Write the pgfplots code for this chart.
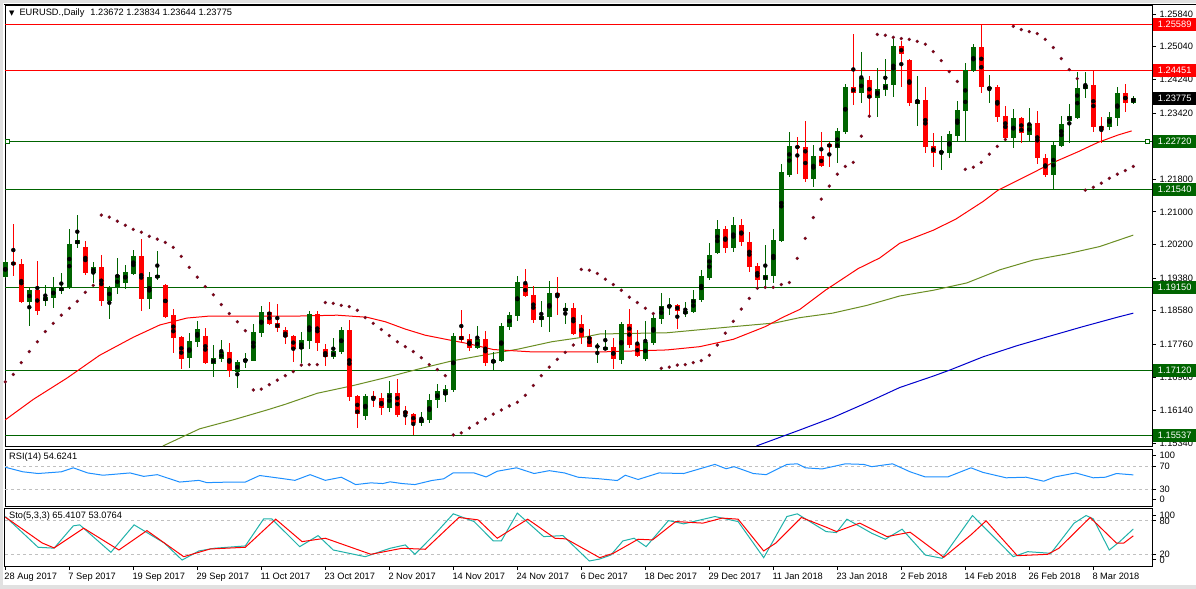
\documentclass[border=0pt]{standalone}
\usepackage{pgfplots}
\pgfplotsset{compat=1.18}
\usepackage{pgfplotstable}
\usepackage{fontspec}
\setmainfont{Liberation Sans}
\newfontfamily\dejavu{DejaVu Sans}
\definecolor{bullc}{RGB}{0,100,0}
\definecolor{bearc}{RGB}{255,0,0}
\definecolor{sarc}{RGB}{139,0,0}
\definecolor{sard}{RGB}{105,20,55}
\definecolor{olivema}{RGB}{107,142,35}
\definecolor{bluema}{RGB}{0,0,205}
\definecolor{rsic}{RGB}{30,144,255}
\definecolor{stoc}{RGB}{32,178,170}
\definecolor{lvl}{RGB}{192,192,192}
\definecolor{winbg}{RGB}{225,225,225}
\newcommand{\fs}{\fontsize{9.3}{10}\selectfont}

\pgfplotstableread{
i o h l c
0 1.1940 1.1982 1.1938 1.1977
3 1.1879 1.1913 1.1820 1.1909
5 1.1882 1.1921 1.1869 1.1891
6 1.1889 1.1940 1.1864 1.1913
7 1.1906 1.1950 1.1899 1.1916
8 1.1913 1.2058 1.1911 1.2021
9 1.2021 1.2092 1.2011 1.2031
11 1.1950 1.1977 1.1926 1.1965
13 1.1882 1.1918 1.1837 1.1916
14 1.1913 1.1987 1.1899 1.1945
15 1.1926 1.1970 1.1911 1.1953
16 1.1948 1.2007 1.1945 1.1992
18 1.1886 1.1953 1.1862 1.1940
19 1.1938 1.2004 1.1933 1.1945
23 1.1742 1.1803 1.1717 1.1784
24 1.1781 1.1833 1.1769 1.1813
26 1.1727 1.1774 1.1695 1.1742
27 1.1739 1.1786 1.1732 1.1757
29 1.1708 1.1737 1.1668 1.1732
30 1.1735 1.1754 1.1717 1.1739
31 1.1735 1.1825 1.1734 1.1806
32 1.1803 1.1869 1.1793 1.1855
37 1.1764 1.1806 1.1730 1.1786
38 1.1784 1.1857 1.1764 1.1850
41 1.1744 1.1791 1.1739 1.1759
42 1.1757 1.1818 1.1752 1.1811
45 1.1601 1.1654 1.1591 1.1649
48 1.1620 1.1686 1.1611 1.1656
52 1.1584 1.1611 1.1576 1.1593
53 1.1591 1.1654 1.1584 1.1640
54 1.1640 1.1678 1.1620 1.1661
55 1.1651 1.1676 1.1635 1.1666
56 1.1664 1.1803 1.1659 1.1796
59 1.1766 1.1820 1.1764 1.1788
61 1.1730 1.1757 1.1713 1.1737
62 1.1735 1.1828 1.1732 1.1820
63 1.1818 1.1855 1.1811 1.1847
64 1.1845 1.1943 1.1833 1.1928
67 1.1835 1.1882 1.1818 1.1845
68 1.1842 1.1931 1.1806 1.1901
70 1.1857 1.1877 1.1825 1.1864
74 1.1769 1.1779 1.1730 1.1772
75 1.1762 1.1811 1.1761 1.1769
77 1.1737 1.1830 1.1727 1.1825
80 1.1739 1.1833 1.1735 1.1781
81 1.1779 1.1852 1.1774 1.1840
82 1.1837 1.1901 1.1825 1.1869
83 1.1867 1.1889 1.1847 1.1872
85 1.1850 1.1879 1.1842 1.1857
86 1.1855 1.1909 1.1852 1.1886
87 1.1884 1.1958 1.1879 1.1943
88 1.1938 1.2024 1.1933 1.1994
89 1.1999 1.2080 1.1998 1.2058
91 1.2011 1.2087 1.2002 1.2068
95 1.1933 1.2019 1.1918 1.1945
96 1.1943 1.2058 1.1926 1.2031
97 1.2029 1.2217 1.2026 1.2198
98 1.2190 1.2296 1.2185 1.2261
101 1.2180 1.2264 1.2161 1.2237
104 1.2256 1.2305 1.2220 1.2298
105 1.2296 1.2412 1.2291 1.2405
107 1.2390 1.2491 1.2367 1.2427
109 1.2378 1.2451 1.2332 1.2400
110 1.2398 1.2473 1.2383 1.2412
111 1.2410 1.2522 1.2380 1.2505
114 1.2364 1.2432 1.2310 1.2374
117 1.2244 1.2286 1.2203 1.2249
118 1.2244 1.2298 1.2232 1.2291
119 1.2286 1.2372 1.2274 1.2350
120 1.2347 1.2464 1.2274 1.2447
121 1.2444 1.2510 1.2442 1.2503
123 1.2400 1.2434 1.2367 1.2405
126 1.2281 1.2352 1.2256 1.2330
128 1.2288 1.2354 1.2274 1.2315
131 1.2190 1.2274 1.2154 1.2264
132 1.2261 1.2335 1.2259 1.2315
133 1.2323 1.2364 1.2269 1.2335
134 1.2330 1.2442 1.2327 1.2402
135 1.2400 1.2442 1.2378 1.2410
138 1.2308 1.2345 1.2301 1.2332
139 1.2330 1.2405 1.2310 1.2390
141 1.23672 1.23834 1.23644 1.23775
}\bulltab

\pgfplotstableread{
i o h l c
1 1.1977 1.2070 1.1943 1.1970
2 1.1972 1.1984 1.1877 1.1879
4 1.1909 1.1980 1.1847 1.1857
10 1.2014 1.2029 1.1945 1.1950
12 1.1965 1.1994 1.1869 1.1882
17 1.1992 1.2033 1.1857 1.1886
20 1.1921 1.1923 1.1841 1.1843
21 1.1847 1.1862 1.1754 1.1791
22 1.1793 1.1796 1.1715 1.1739
25 1.1796 1.1815 1.1727 1.1730
28 1.1757 1.1779 1.1695 1.1710
33 1.1855 1.1879 1.1823 1.1825
34 1.1828 1.1874 1.1806 1.1815
35 1.1811 1.1818 1.1776 1.1793
36 1.1796 1.1798 1.1732 1.1764
39 1.1850 1.1857 1.1759 1.1779
40 1.1764 1.1776 1.1722 1.1744
43 1.1811 1.1835 1.1638 1.1646
44 1.1649 1.1651 1.1571 1.1606
46 1.1649 1.1661 1.1623 1.1641
47 1.1644 1.1656 1.1603 1.1620
49 1.1656 1.1690 1.1598 1.1603
50 1.1613 1.1625 1.1579 1.1606
51 1.1606 1.1608 1.1554 1.1584
57 1.1796 1.1860 1.1781 1.1786
58 1.1788 1.1801 1.1759 1.1766
60 1.1788 1.1808 1.1722 1.1730
65 1.1923 1.1960 1.1891 1.1894
66 1.1896 1.1918 1.1828 1.1835
69 1.1901 1.1940 1.1847 1.1894
71 1.1864 1.1877 1.1798 1.1801
72 1.1825 1.1847 1.1776 1.1793
73 1.1793 1.1813 1.1769 1.1770
76 1.1769 1.1791 1.1715 1.1739
78 1.1825 1.1862 1.1766 1.1774
79 1.1776 1.1811 1.1744 1.1747
84 1.1872 1.1874 1.1813 1.1857
90 1.2058 1.2065 1.1999 1.2011
92 1.2068 1.2082 1.2016 1.2026
93 1.2026 1.2051 1.1953 1.1965
94 1.1967 1.1975 1.1913 1.1933
99 1.2261 1.2283 1.2193 1.2256
100 1.2259 1.2323 1.2173 1.2180
102 1.2237 1.2296 1.2210 1.2212
103 1.2266 1.2271 1.2210 1.2259
106 1.2405 1.2535 1.2362 1.2390
108 1.2422 1.2432 1.2332 1.2378
112 1.2505 1.2518 1.2405 1.2486
113 1.2471 1.2473 1.2359 1.2367
115 1.2374 1.2405 1.2244 1.2259
116 1.2261 1.2293 1.2210 1.2244
122 1.2503 1.2559 1.2390 1.2405
124 1.2405 1.2410 1.2320 1.2332
125 1.2335 1.2359 1.2274 1.2281
127 1.2330 1.2332 1.2269 1.2293
129 1.2318 1.2347 1.2217 1.2232
130 1.2232 1.2242 1.2185 1.2190
136 1.2410 1.2445 1.2296 1.2308
137 1.2310 1.2332 1.2269 1.2301
140 1.2390 1.2412 1.2345 1.2367
}\beartab

\pgfplotsset{
  mtpanel/.style={
    scale only axis, width=1147bp, xmin=-0.0375, xmax=143.3375,
    clip=false, axis line style={black, line width=1bp},
    tick align=outside, major tick length=4bp,
    tick style={black, line width=0.8bp},
    ytick pos=right, yticklabel pos=right,
    tick label style={font=\fs},
    y tick label style={anchor=west},
    /pgf/number format/assume math mode=true,
  },
  wick/.style={only marks, mark=none,
    error bars/.cd, y dir=both, y explicit, error mark=none,
    error bar style={line width=1bp, draw=#1}},
  body/.style={only marks, mark=none,
    error bars/.cd, y dir=both, y explicit, error mark=none,
    error bar style={line width=5bp, draw=#1}},
}

\begin{document}
\begin{tikzpicture}
\path[fill=winbg, use as bounding box] (0,0) rectangle (1196bp,-589bp);
\fill[white] (3bp,-3bp) rectangle (1196bp,-585bp);
\draw[black, line width=1bp] (4bp,-4.5bp) -- (1196bp,-4.5bp);

% ---------------- main price panel ----------------
\begin{axis}[mtpanel, at={(5bp,-5bp)}, anchor=north west, height=441bp,
  ymin=1.15269, ymax=1.26061, xtick=\empty,
  ytick={1.1534,1.1614,1.1696,1.1776,1.1858,1.1938,1.2020,1.2100,1.2180,1.2262,1.2342,1.2424,1.2504,1.2584},
  yticklabel style={/pgf/number format/fixed, /pgf/number format/fixed zerofill, /pgf/number format/precision=5},
]
% horizontal levels
\addplot[bearc, line width=1bp] coordinates {(-0.0375,1.25589)(143.3375,1.25589)};
\addplot[bearc, line width=1bp] coordinates {(-0.0375,1.24451)(143.3375,1.24451)};
\addplot[bullc, line width=1bp] coordinates {(-0.0375,1.22720)(143.3375,1.22720)};
\addplot[bullc, line width=1bp] coordinates {(-0.0375,1.21540)(143.3375,1.21540)};
\addplot[bullc, line width=1bp] coordinates {(-0.0375,1.19150)(143.3375,1.19150)};
\addplot[bullc, line width=1bp] coordinates {(-0.0375,1.17120)(143.3375,1.17120)};
\addplot[bullc, line width=1bp] coordinates {(-0.0375,1.15537)(143.3375,1.15537)};
% moving averages
\addplot[olivema, line width=1bp] coordinates {(19.7,1.1527)(24.3,1.1569)(28.5,1.1591)(32.7,1.1615)(35,1.1629)(39,1.1656)(43.3,1.1674)(47.5,1.1694)(51.6,1.1715)(55.8,1.1735)(60,1.1750)(64.1,1.1764)(68.3,1.1782)(72.5,1.1794)(74.3,1.1801)(82.7,1.1804)(91,1.1819)(96.2,1.1828)(99.3,1.1841)(103.4,1.1852)(107.7,1.1871)(111.8,1.1894)(116,1.1908)(120.2,1.1926)(124.3,1.1958)(128.5,1.1982)(132.7,1.1997)(136.8,1.2015)(141,1.2043)};
\addplot[bluema, line width=1bp] coordinates {(93.9,1.1527)(99.3,1.1566)(103.5,1.1597)(107.7,1.1633)(111.8,1.1670)(116,1.1698)(118.1,1.1713)(122.2,1.1745)(126.4,1.1772)(130.6,1.1796)(134.7,1.1819)(139,1.1842)(141,1.1852)};
\addplot[bearc, line width=1bp] coordinates {(0,1.1591)(3.5,1.1641)(7.7,1.1693)(11.8,1.1749)(16,1.1793)(19.3,1.1823)(22.7,1.1840)(25.6,1.1845)(32.7,1.1845)(36.8,1.1845)(41.5,1.1847)(45.2,1.1842)(47.5,1.1831)(50,1.1813)(52.5,1.1798)(55.6,1.1786)(57.7,1.1778)(61,1.1763)(66,1.1757)(74.3,1.1757)(82.7,1.1762)(86.8,1.1770)(91,1.1788)(95,1.1819)(97.2,1.1842)(99.3,1.1861)(102.5,1.1908)(106.6,1.1961)(109.3,1.1987)(111.8,1.2023)(116,1.2055)(118.8,1.2082)(122.2,1.2125)(124.1,1.2153)(128.3,1.2194)(130.8,1.2219)(134.1,1.2247)(136.6,1.2270)(139.1,1.2288)(140.8,1.2298)};
% candles
\addplot[wick=bullc] table[x=i, y expr={(\thisrow{h}+\thisrow{l})/2}, y error expr={(\thisrow{h}-\thisrow{l})/2}] {\bulltab};
\addplot[wick=bearc] table[x=i, y expr={(\thisrow{h}+\thisrow{l})/2}, y error expr={(\thisrow{h}-\thisrow{l})/2}] {\beartab};
\addplot[body=bullc] table[x=i, y expr={(\thisrow{o}+\thisrow{c})/2}, y error expr={(\thisrow{c}-\thisrow{o})/2}] {\bulltab};
\addplot[body=bearc] table[x=i, y expr={(\thisrow{o}+\thisrow{c})/2}, y error expr={(\thisrow{o}-\thisrow{c})/2}] {\beartab};
% parabolic SAR
\addplot[only marks, mark=*, mark size=1.5bp, mark options={fill=sarc, draw=sard, line width=0.4bp}] coordinates {(0,1.1684)(1,1.1702)(2,1.1731)(3,1.1758)(4,1.1782)(5,1.1807)(6,1.1827)(7,1.1847)(8,1.1864)(9,1.1881)(10,1.1903)(11,1.1920)(12,1.2092)(13,1.2087)(14,1.2077)(15,1.2067)(16,1.2057)(17,1.2050)(18,1.2040)(19,1.2033)(20,1.2025)(21,1.2013)(22,1.1991)(23,1.1964)(24,1.1940)(25,1.1917)(26,1.1897)(27,1.1873)(28,1.1851)(29,1.1831)(30,1.1809)(31,1.1664)(32,1.1666)(33,1.1677)(34,1.1688)(35,1.1699)(36,1.1709)(37,1.1725)(38,1.1726)(39,1.1726)(40,1.1878)(41,1.1876)(42,1.1871)(43,1.1868)(44,1.1859)(45,1.1841)(46,1.1827)(47,1.1812)(48,1.1797)(49,1.1782)(50,1.1770)(51,1.1758)(52,1.1743)(53,1.1726)(54,1.1714)(55,1.1699)(56,1.1554)(57,1.1559)(58,1.1571)(59,1.1583)(60,1.1593)(61,1.1605)(62,1.1615)(63,1.1625)(64,1.1634)(65,1.1651)(66,1.1675)(67,1.1699)(68,1.1720)(69,1.1739)(70,1.1756)(71,1.1774)(72,1.1959)(73,1.1957)(74,1.1949)(75,1.1935)(76,1.1922)(77,1.1908)(78,1.1891)(79,1.1878)(80,1.1864)(81,1.1851)(82,1.1717)(83,1.1720)(84,1.1725)(85,1.1726)(86,1.1731)(87,1.1736)(88,1.1749)(89,1.1774)(90,1.1803)(91,1.1832)(92,1.1862)(93,1.1888)(94,1.1913)(95,1.1915)(96,1.1915)(97,1.1922)(98,1.1927)(99,1.1986)(100,1.2035)(101,1.2086)(102,1.2131)(103,1.2163)(104,1.2192)(105,1.2211)(106,1.2221)(107,1.2285)(108,1.2334)(109,1.2534)(110,1.2532)(111,1.2527)(112,1.2524)(113,1.2522)(114,1.2517)(115,1.2510)(116,1.2492)(117,1.2470)(118,1.2443)(119,1.2419)(120,1.2204)(121,1.2209)(122,1.2221)(123,1.2241)(124,1.2260)(125,1.2277)(126,1.2554)(127,1.2546)(128,1.2541)(129,1.2536)(130,1.2522)(131,1.2502)(132,1.2475)(133,1.2448)(134,1.2426)(135,1.2153)(136,1.2160)(137,1.2170)(138,1.2182)(139,1.2192)(140,1.2201)(141,1.2211)};
% selection handles on the 1.22720 line
\addplot[only marks, mark=square*, mark size=2bp, mark options={fill=white, draw=bullc, line width=0.8bp}] coordinates {(0.2,1.2272)(142.8,1.2272)};
\coordinate (r1) at (axis cs:143.3375,1.25589);
\coordinate (r2) at (axis cs:143.3375,1.24451);
\coordinate (k1) at (axis cs:143.3375,1.23775);
\coordinate (g1) at (axis cs:143.3375,1.22720);
\coordinate (g2) at (axis cs:143.3375,1.21540);
\coordinate (g3) at (axis cs:143.3375,1.19150);
\coordinate (g4) at (axis cs:143.3375,1.17120);
\coordinate (g5) at (axis cs:143.3375,1.15537);
\end{axis}

\tikzset{pbox/.style={anchor=west, xshift=1bp, text=white, font=\fs, inner xsep=4.5bp, inner ysep=0pt, minimum height=13bp, minimum width=43bp}}
\node[pbox, fill=bearc] at (r1) {1.25589};
\node[pbox, fill=bearc] at (r2) {1.24451};
\node[pbox, fill=black] at (k1) {1.23775};
\node[pbox, fill=bullc] at (g1) {1.22720};
\node[pbox, fill=bullc] at (g2) {1.21540};
\node[pbox, fill=bullc] at (g3) {1.19150};
\node[pbox, fill=bullc] at (g4) {1.17120};
\node[pbox, fill=bullc] at (g5) {1.15537};

\node[anchor=west, font=\fs, inner sep=0pt] at (9bp,-13bp) {{\dejavu\fontsize{7}{8}\selectfont ▼}\hspace{5bp}EURUSD.,Daily\hspace{6bp}1.23672 1.23834 1.23644 1.23775};

% ---------------- RSI panel ----------------
\begin{axis}[mtpanel, at={(5bp,-449bp)}, anchor=north west, height=57bp,
  ymin=0, ymax=100, xtick=\empty,
  ytick={12,30,70,89}, yticklabels={0,30,70,100},
]
\addplot[lvl, dash pattern=on 3bp off 3bp, line width=0.8bp] coordinates {(-0.0375,70)(143.3375,70)};
\addplot[lvl, dash pattern=on 3bp off 3bp, line width=0.8bp] coordinates {(-0.0375,30)(143.3375,30)};
\addplot[rsic, line width=1bp] coordinates {(0,68)(2.2,60)(4.1,57)(7,60)(8.5,67)(10.3,58)(12.2,54)(15.6,58)(17.3,52)(19,55)(21.8,42)(24.2,45)(25.2,41)(28.1,42)(30,42)(31.8,53.5)(34.7,48)(36.2,45)(38.1,55)(40,45)(42,50.5)(43.8,37.6)(45.7,40.6)(47.2,39.4)(48.1,42.4)(49.6,39.4)(51.2,37.6)(53.3,44.7)(54.8,47.7)(56,58.3)(58.6,58)(60.1,51)(61.5,61)(63.9,67)(66.1,57)(68,62)(69.9,58)(71.6,50.5)(74.3,47.7)(76.5,44.7)(77.5,54)(79.1,46.5)(81.7,58)(84.8,57)(88.7,73)(90.1,65.4)(91.1,69)(93.5,57)(95.1,55)(97.7,73)(99,74)(100,67)(102.1,65)(105,74)(107.3,73)(108.3,69)(110.9,74)(113.1,60)(115,51)(117.8,51)(120.7,67)(122.2,59)(125.1,49.5)(127.6,50.5)(129.8,43.5)(131.2,51)(133.8,58)(136,49.5)(137.5,50.5)(138.9,57)(141,54.6)};
\end{axis}
\node[anchor=west, font=\fs, inner sep=0pt] at (9bp,-457.5bp) {RSI(14) 54.6241};

% ---------------- Stochastic panel ----------------
\begin{axis}[mtpanel, at={(5bp,-508bp)}, anchor=north west, height=58bp,
  ymin=-1, ymax=103,
  ytick={10,20,80,90}, yticklabels={0,20,80,100},
  xtick={0,8,...,136}, xtick pos=left,
  xticklabels={28 Aug 2017,7 Sep 2017,19 Sep 2017,29 Sep 2017,11 Oct 2017,23 Oct 2017,2 Nov 2017,14 Nov 2017,24 Nov 2017,6 Dec 2017,18 Dec 2017,29 Dec 2017,11 Jan 2018,23 Jan 2018,2 Feb 2018,14 Feb 2018,26 Feb 2018,8 Mar 2018},
  x tick label style={anchor=north west, xshift=-2bp, yshift=-2bp, inner sep=1bp},
]
\addplot[lvl, dash pattern=on 3bp off 3bp, line width=0.8bp] coordinates {(-0.0375,80)(143.3375,80)};
\addplot[lvl, dash pattern=on 3bp off 3bp, line width=0.8bp] coordinates {(-0.0375,20)(143.3375,20)};
\addplot[stoc, line width=1bp] coordinates {(0,87.7)(4.1,32.6)(6.1,31)(8.5,71)(9.3,72.8)(13.2,23.6)(16.1,72.8)(19.9,40)(22.1,9.7)(24.2,26)(26.1,30.8)(30,35)(32.3,83.6)(33.3,83.6)(36.8,33.7)(39.1,53.5)(41,27.7)(45,15.7)(48.1,30.8)(50,36.8)(51.2,20)(53.8,57.8)(56,92.6)(58.6,78.7)(61,44)(62,44)(64,93.9)(67.3,51.7)(69.7,53.5)(73,8)(74.3,11.5)(75.7,18.7)(77.2,44)(78.6,48.8)(80.1,33.7)(82.9,80.5)(84.8,74.6)(88.7,87.7)(91.6,78.7)(94.8,13.9)(97.7,87.7)(99,92.6)(102.6,60.7)(103.9,59)(105.2,83)(108.3,57.8)(110,47)(112.1,65)(115,18.7)(117.1,12.8)(120.9,89.5)(123.6,50.6)(126,15.7)(127.8,24.7)(130.7,21.8)(133.6,75.9)(135.1,89.5)(136,83.6)(138,27.7)(139.3,42.7)(141,65.4)};
\addplot[bearc, line width=1bp] coordinates {(0,86.7)(4.6,40.4)(6.1,31.4)(9.8,66.8)(14.2,27.7)(17.7,62.5)(22.3,15.7)(25.6,29.5)(30,32.6)(33.8,83)(37.1,42.7)(40,48.8)(45.7,20)(49.6,30.8)(52.5,29)(56.7,86)(59.1,81.8)(61.5,48.8)(65.3,83)(68.7,48.8)(70.1,47.6)(74.3,13.9)(76,21.8)(79.1,47)(80.9,45.8)(83.8,78.7)(87.2,75.9)(89.6,84.9)(91.6,83)(94.8,26)(96.3,40)(99.5,86)(102.6,68.6)(103.9,60.7)(106.8,75.9)(110.2,51.7)(113.1,59.6)(117.3,14.6)(120.7,54.8)(122.6,80)(126.5,17.5)(130.3,20)(131.7,30.8)(135.6,86)(138.9,40)(139.8,40)(141,53.1)};
\end{axis}
\node[anchor=west, font=\fs, inner sep=0pt] at (9bp,-516.5bp) {Sto(5,3,3) 65.4107 53.0764};
\end{tikzpicture}
\end{document}
